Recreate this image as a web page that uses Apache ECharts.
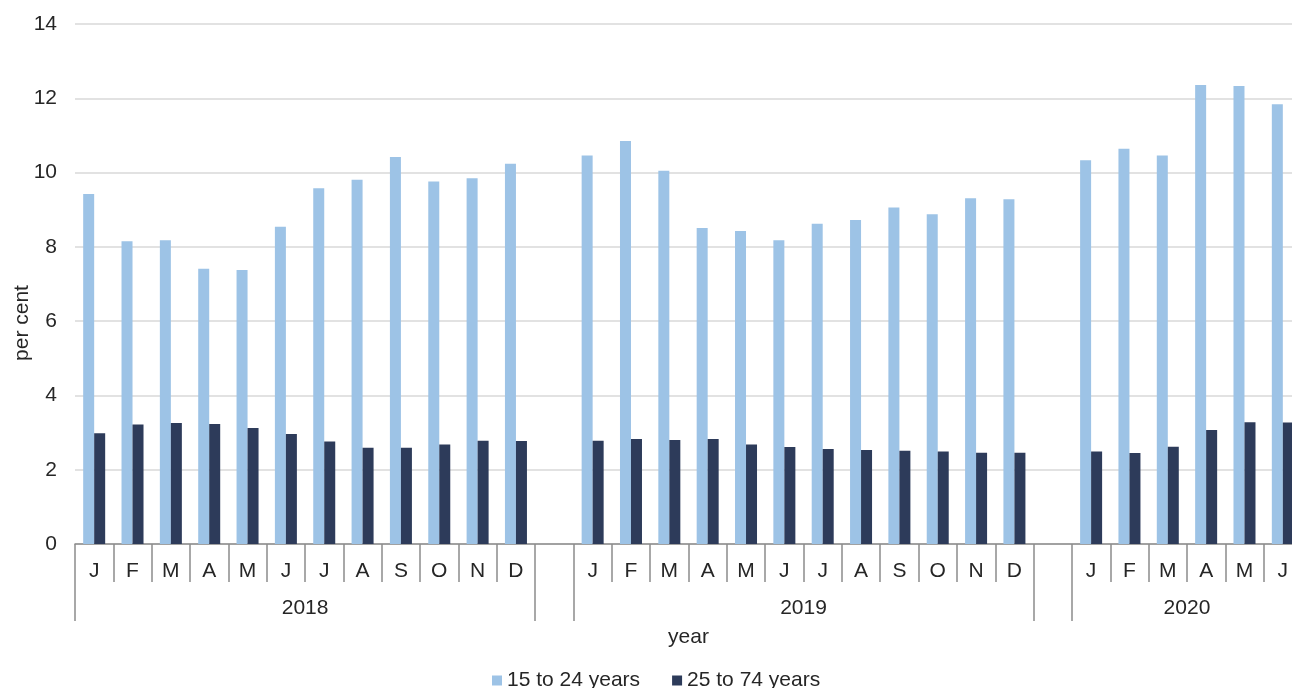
<!DOCTYPE html>
<html>
<head>
<meta charset="utf-8">
<script src="https://cdn.jsdelivr.net/npm/echarts@6/dist/echarts.min.js"></script>
<style>
html,body{margin:0;padding:0;overflow:hidden;background:#fff;}
#c{width:1320px;height:688px;}
</style>
</head>
<body>
<div id="c"></div>
<script>
// ---- data ----
var years = ['2018', '2019', '2020'];
var months2018 = ['J','F','M','A','M','J','J','A','S','O','N','D'];
var months2019 = ['J','F','M','A','M','J','J','A','S','O','N','D'];
var months2020 = ['J','F','M','A','M','J'];
var young2018 = [9.42, 8.15, 8.18, 7.41, 7.38, 8.54, 9.58, 9.81, 10.42, 9.76, 9.85, 10.24];
var young2019 = [10.46, 10.85, 10.05, 8.51, 8.43, 8.18, 8.62, 8.72, 9.06, 8.88, 9.31, 9.28];
var young2020 = [10.33, 10.64, 10.46, 12.36, 12.33, 11.84];
var adult2018 = [2.98, 3.22, 3.26, 3.23, 3.12, 2.96, 2.76, 2.59, 2.59, 2.68, 2.78, 2.77];
var adult2019 = [2.78, 2.83, 2.80, 2.83, 2.68, 2.61, 2.56, 2.53, 2.51, 2.49, 2.46, 2.46];
var adult2020 = [2.49, 2.45, 2.62, 3.07, 3.28, 3.27];
var seriesNames = ['15 to 24 years', '25 to 74 years'];
var yTicks = [0, 2, 4, 6, 8, 10, 12, 14];

// ---- build category axis with blank separators ----
var monthGroups = [months2018, months2019, months2020];
var youngGroups = [young2018, young2019, young2020];
var adultGroups = [adult2018, adult2019, adult2020];
var cats = [], young = [], adult = [];
var groupTicks = [], groupCenters = [];
monthGroups.forEach(function (g, i) {
  if (i > 0) { groupTicks.push(cats.length); cats.push(''); young.push(null); adult.push(null); }
  var start = cats.length;
  groupTicks.push(start);
  g.forEach(function (m, j) { cats.push(m); young.push(youngGroups[i][j]); adult.push(adultGroups[i][j]); });
  groupCenters.push((start + cats.length) / 2);
});

var txt = '#262626';
var fs = 21;
var font = 'Liberation Sans, Arial, sans-serif';
var chart = echarts.init(document.getElementById('c'));
chart.setOption({
  animation: false,
  grid: { left: 75, right: 18, top: 24, bottom: 144, containLabel: false, outerBoundsMode: 'none' },
  legend: {
    data: seriesNames, top: 665, left: 487,
    itemWidth: 10, itemHeight: 10, itemGap: 32,
    icon: 'rect',
    textStyle: { fontSize: fs, color: txt, fontFamily: font }
  },
  xAxis: [
    {
      type: 'category', data: cats, position: 'bottom',
      axisLine: { lineStyle: { color: '#8c8c8c', width: 1.5 } },
      axisTick: { show: true, interval: 0, length: 38, lineStyle: { color: '#8c8c8c', width: 1.5 } },
      axisLabel: { interval: 0, fontSize: fs, color: txt, fontFamily: font, margin: 17 },
      name: 'year', nameLocation: 'middle', nameGap: 83, nameMoveOverlap: false,
      nameTextStyle: { fontSize: fs, color: txt, fontFamily: font },
      splitLine: { show: false }
    },
    {
      type: 'value', min: 0, max: cats.length, position: 'bottom',
      axisLine: { show: false },
      axisTick: { show: true, customValues: groupTicks, length: 77, lineStyle: { color: '#8c8c8c', width: 1.5 } },
      axisLabel: {
        customValues: groupCenters, fontSize: fs, color: txt, fontFamily: font, margin: 54,
        formatter: function (v) { var k = groupCenters.indexOf(v); return k >= 0 ? years[k] : ''; }
      },
      splitLine: { show: false }
    }
  ],
  yAxis: {
    type: 'value', min: 0, max: 14, interval: 2,
    axisLine: { show: false }, axisTick: { show: false },
    axisLabel: { fontSize: fs, color: txt, fontFamily: font, margin: 18,
      formatter: function (v) { return yTicks.indexOf(v) >= 0 ? String(v) : ''; } },
    splitLine: { lineStyle: { color: '#d9d9d9', width: 1.5 } },
    name: 'per cent', nameLocation: 'middle', nameGap: 42, nameMoveOverlap: false,
    nameTextStyle: { fontSize: fs, color: txt, fontFamily: font, padding: [0, 78, 0, 0] }
  },
  series: [
    { name: seriesNames[0], type: 'bar', xAxisIndex: 0, data: young, barWidth: 11, barGap: '0%',
      itemStyle: { color: '#9dc3e6' } },
    { name: seriesNames[1], type: 'bar', xAxisIndex: 0, data: adult, barWidth: 11, barGap: '0%',
      itemStyle: { color: '#2d3b5a' } }
  ]
});
</script>
</body>
</html>
